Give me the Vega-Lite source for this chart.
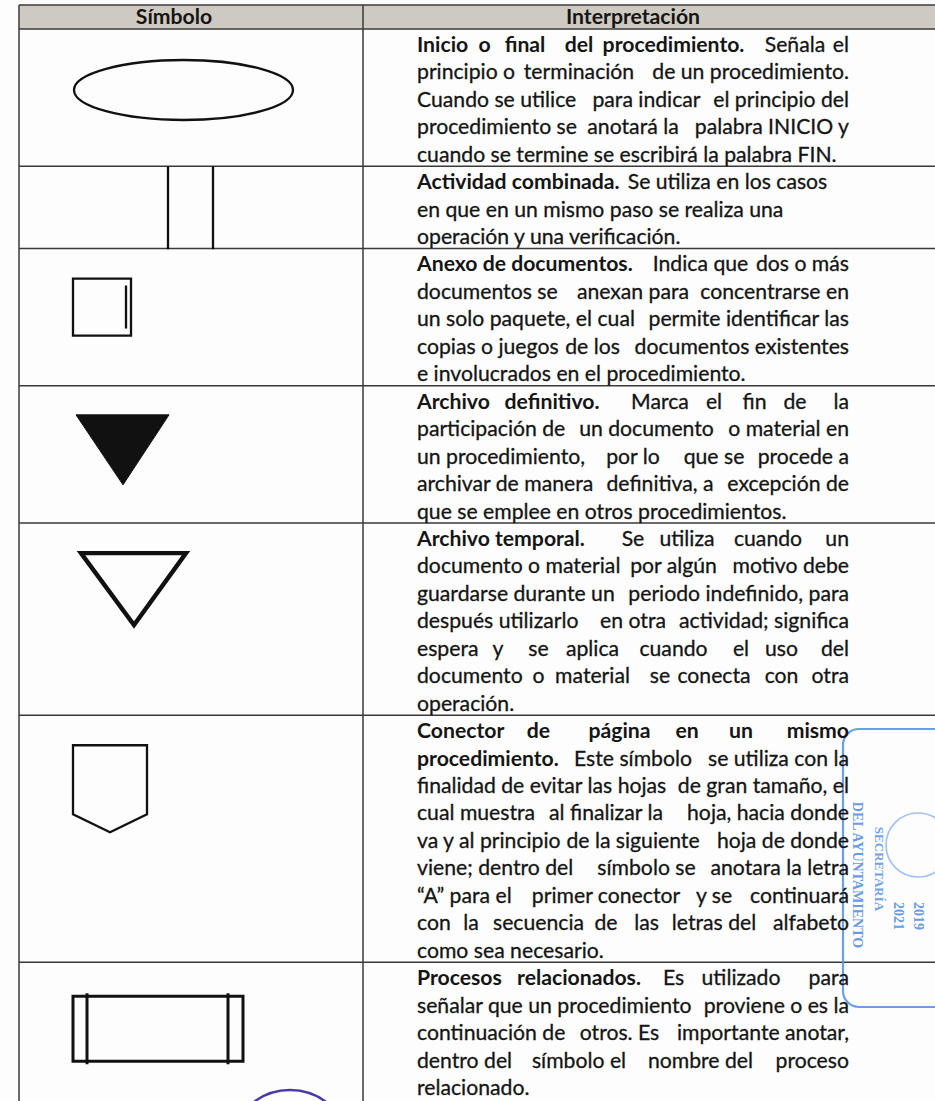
{
  "$schema": "https://vega.github.io/schema/vega-lite/v6.json",
  "width": 935,
  "height": 1101,
  "autosize": {"type": "none"},
  "padding": 0,
  "background": "#fdfdfd",
  "config": {"view": {"stroke": null}},
  "datasets": {
    "rows": [
      {"symbol": "inicio", "start": 0},
      {"symbol": "actividad", "start": 5},
      {"symbol": "anexo", "start": 8},
      {"symbol": "definitivo", "start": 13},
      {"symbol": "temporal", "start": 18},
      {"symbol": "conector", "start": 25},
      {"symbol": "procesos", "start": 34}
    ],
    "lines": [
      {"line": 0, "tab": -18, "text": "Símbolo", "bold": true},
      {"line": 0, "tab": 16, "text": "Interpretación", "bold": true},
      {"line": 1, "tab": 0, "text": "Inicio", "bold": true},
      {"line": 1, "tab": 5, "text": "o", "bold": true},
      {"line": 1, "tab": 8, "text": "final", "bold": true},
      {"line": 1, "tab": 12, "text": "del", "bold": true},
      {"line": 1, "tab": 19, "text": "procedimiento.", "bold": true},
      {"line": 1, "tab": 28, "text": "Señala"},
      {"line": 1, "tab": 32, "text": "el"},
      {"line": 2, "tab": 0, "text": "principio o"},
      {"line": 2, "tab": 12, "text": "terminación"},
      {"line": 2, "tab": 32, "text": "de un procedimiento."},
      {"line": 3, "tab": 0, "text": "Cuando se utilice"},
      {"line": 3, "tab": 17, "text": "para indicar"},
      {"line": 3, "tab": 32, "text": "el principio del"},
      {"line": 4, "tab": 0, "text": "procedimiento se"},
      {"line": 4, "tab": 16, "text": "anotará la"},
      {"line": 4, "tab": 32, "text": "palabra INICIO y"},
      {"line": 5, "tab": 0, "text": "cuando se termine se escribirá la palabra FIN."},
      {"line": 6, "tab": 0, "text": "Actividad combinada.", "bold": true},
      {"line": 6, "tab": 23, "text": "Se utiliza en los casos"},
      {"line": 7, "tab": 0, "text": "en que en un mismo paso se realiza una"},
      {"line": 8, "tab": 0, "text": "operación y una verificación."},
      {"line": 9, "tab": 0, "text": "Anexo de documentos.", "bold": true},
      {"line": 9, "tab": 21, "text": "Indica que"},
      {"line": 9, "tab": 32, "text": "dos o más"},
      {"line": 10, "tab": 0, "text": "documentos se"},
      {"line": 10, "tab": 16, "text": "anexan para"},
      {"line": 10, "tab": 32, "text": "concentrarse en"},
      {"line": 11, "tab": 0, "text": "un solo paquete, el cual"},
      {"line": 11, "tab": 32, "text": "permite identificar las"},
      {"line": 12, "tab": 0, "text": "copias o juegos"},
      {"line": 12, "tab": 13, "text": "de los"},
      {"line": 12, "tab": 32, "text": "documentos existentes"},
      {"line": 13, "tab": 0, "text": "e involucrados en el procedimiento."},
      {"line": 14, "tab": 0, "text": "Archivo", "bold": true},
      {"line": 14, "tab": 10, "text": "definitivo.", "bold": true},
      {"line": 14, "tab": 18, "text": "Marca"},
      {"line": 14, "tab": 22, "text": "el"},
      {"line": 14, "tab": 25, "text": "fin"},
      {"line": 14, "tab": 28, "text": "de"},
      {"line": 14, "tab": 32, "text": "la"},
      {"line": 15, "tab": 0, "text": "participación de"},
      {"line": 15, "tab": 17, "text": "un documento"},
      {"line": 15, "tab": 32, "text": "o material en"},
      {"line": 16, "tab": 0, "text": "un procedimiento,"},
      {"line": 16, "tab": 16, "text": "por lo"},
      {"line": 16, "tab": 22, "text": "que se"},
      {"line": 16, "tab": 32, "text": "procede a"},
      {"line": 17, "tab": 0, "text": "archivar de manera"},
      {"line": 17, "tab": 18, "text": "definitiva, a"},
      {"line": 17, "tab": 32, "text": "excepción de"},
      {"line": 18, "tab": 0, "text": "que se emplee en otros procedimientos."},
      {"line": 19, "tab": 0, "text": "Archivo temporal.", "bold": true},
      {"line": 19, "tab": 16, "text": "Se"},
      {"line": 19, "tab": 20, "text": "utiliza"},
      {"line": 19, "tab": 26, "text": "cuando"},
      {"line": 19, "tab": 32, "text": "un"},
      {"line": 20, "tab": 0, "text": "documento o material"},
      {"line": 20, "tab": 19, "text": "por algún"},
      {"line": 20, "tab": 32, "text": "motivo debe"},
      {"line": 21, "tab": 0, "text": "guardarse durante un"},
      {"line": 21, "tab": 32, "text": "periodo indefinido, para"},
      {"line": 22, "tab": 0, "text": "después utilizarlo"},
      {"line": 22, "tab": 16, "text": "en otra"},
      {"line": 22, "tab": 32, "text": "actividad; significa"},
      {"line": 23, "tab": 0, "text": "espera"},
      {"line": 23, "tab": 6, "text": "y"},
      {"line": 23, "tab": 9, "text": "se"},
      {"line": 23, "tab": 13, "text": "aplica"},
      {"line": 23, "tab": 19, "text": "cuando"},
      {"line": 23, "tab": 24, "text": "el"},
      {"line": 23, "tab": 27, "text": "uso"},
      {"line": 23, "tab": 32, "text": "del"},
      {"line": 24, "tab": 0, "text": "documento"},
      {"line": 24, "tab": 9, "text": "o"},
      {"line": 24, "tab": 13, "text": "material"},
      {"line": 24, "tab": 18, "text": "se"},
      {"line": 24, "tab": 22, "text": "conecta"},
      {"line": 24, "tab": 27, "text": "con"},
      {"line": 24, "tab": 32, "text": "otra"},
      {"line": 25, "tab": 0, "text": "operación."},
      {"line": 26, "tab": 0, "text": "Conector", "bold": true},
      {"line": 26, "tab": 9, "text": "de", "bold": true},
      {"line": 26, "tab": 15, "text": "página", "bold": true},
      {"line": 26, "tab": 20, "text": "en", "bold": true},
      {"line": 26, "tab": 24, "text": "un", "bold": true},
      {"line": 26, "tab": 32, "text": "mismo", "bold": true},
      {"line": 27, "tab": 0, "text": "procedimiento.", "bold": true},
      {"line": 27, "tab": 16, "text": "Este símbolo"},
      {"line": 27, "tab": 32, "text": "se utiliza con la"},
      {"line": 28, "tab": 0, "text": "finalidad de evitar las hojas"},
      {"line": 28, "tab": 32, "text": "de gran tamaño, el"},
      {"line": 29, "tab": 0, "text": "cual muestra"},
      {"line": 29, "tab": 14, "text": "al finalizar la"},
      {"line": 29, "tab": 32, "text": "hoja, hacia donde"},
      {"line": 30, "tab": 0, "text": "va y al principio"},
      {"line": 30, "tab": 16, "text": "de la siguiente"},
      {"line": 30, "tab": 32, "text": "hoja de donde"},
      {"line": 31, "tab": 0, "text": "viene; dentro del"},
      {"line": 31, "tab": 17, "text": "símbolo se"},
      {"line": 31, "tab": 32, "text": "anotara la letra"},
      {"line": 32, "tab": 0, "text": "“A” para el"},
      {"line": 32, "tab": 14, "text": "primer conector"},
      {"line": 32, "tab": 22, "text": "y se"},
      {"line": 32, "tab": 32, "text": "continuará"},
      {"line": 33, "tab": 0, "text": "con"},
      {"line": 33, "tab": 4, "text": "la"},
      {"line": 33, "tab": 9, "text": "secuencia"},
      {"line": 33, "tab": 14, "text": "de"},
      {"line": 33, "tab": 17, "text": "las"},
      {"line": 33, "tab": 22, "text": "letras del"},
      {"line": 33, "tab": 32, "text": "alfabeto"},
      {"line": 34, "tab": 0, "text": "como sea necesario."},
      {"line": 35, "tab": 0, "text": "Procesos", "bold": true},
      {"line": 35, "tab": 12, "text": "relacionados.", "bold": true},
      {"line": 35, "tab": 19, "text": "Es"},
      {"line": 35, "tab": 24, "text": "utilizado"},
      {"line": 35, "tab": 32, "text": "para"},
      {"line": 36, "tab": 0, "text": "señalar que un procedimiento"},
      {"line": 36, "tab": 32, "text": "proviene o es la"},
      {"line": 37, "tab": 0, "text": "continuación de"},
      {"line": 37, "tab": 15, "text": "otros. Es"},
      {"line": 37, "tab": 32, "text": "importante anotar,"},
      {"line": 38, "tab": 0, "text": "dentro del"},
      {"line": 38, "tab": 12, "text": "símbolo el"},
      {"line": 38, "tab": 21, "text": "nombre del"},
      {"line": 38, "tab": 32, "text": "proceso"},
      {"line": 39, "tab": 0, "text": "relacionado."}
    ]
  },
  "layer": [
    {
      "layer": [
        {
          "data": {"values": [{"part": "encabezado"}]},
          "mark": {"type": "rect", "fill": "#cfcac1"},
          "encoding": {
            "x": {"datum": 19, "type": "quantitative", "scale": {"domain": [0, 935], "nice": false, "zero": false}, "axis": null},
            "x2": {"datum": 935},
            "y": {"datum": -0.8743, "type": "quantitative", "scale": {"domain": [-1.05647, 39.0528], "reverse": true, "nice": false, "zero": false}, "axis": null},
            "y2": {"datum": 0}
          }
        },
        {
          "data": {"name": "rows"},
          "mark": {"type": "rule", "stroke": "#3a3a3a", "strokeWidth": 1.5},
          "encoding": {
            "x": {"datum": 19, "type": "quantitative", "axis": null},
            "x2": {"datum": 935},
            "y": {"field": "start", "type": "quantitative", "axis": null}
          }
        },
        {
          "data": {"values": [{"part": "borde superior"}]},
          "mark": {"type": "rule", "stroke": "#3a3a3a", "strokeWidth": 1.5},
          "encoding": {
            "x": {"datum": 19, "type": "quantitative", "axis": null},
            "x2": {"datum": 935},
            "y": {"datum": -0.8743, "type": "quantitative", "axis": null}
          }
        },
        {
          "data": {"values": [{"part": "borde izquierdo"}]},
          "mark": {"type": "rule", "stroke": "#3a3a3a", "strokeWidth": 1.5},
          "encoding": {
            "x": {"datum": 19, "type": "quantitative", "axis": null},
            "y": {"datum": -0.8743, "type": "quantitative", "axis": null},
            "y2": {"datum": 41}
          }
        },
        {
          "data": {"values": [{"part": "divisor"}]},
          "mark": {"type": "rule", "stroke": "#3a3a3a", "strokeWidth": 1.5},
          "encoding": {
            "x": {"datum": 363, "type": "quantitative", "axis": null},
            "y": {"datum": -0.8743, "type": "quantitative", "axis": null},
            "y2": {"datum": 41}
          }
        },
        {
          "data": {"name": "rows"},
          "transform": [{"filter": "datum.symbol != 'definitivo' && datum.symbol != 'temporal' && datum.symbol != 'procesos'"}],
          "mark": {"type": "point", "filled": false, "stroke": "#111111", "strokeWidth": 2.3, "opacity": 1, "size": 4},
          "encoding": {
            "x": {"datum": 0, "type": "quantitative", "axis": null},
            "y": {"field": "start", "type": "quantitative", "axis": null},
            "shape": {"field": "symbol", "type": "nominal", "legend": null, "scale": {"domain": ["inicio", "actividad", "anexo", "definitivo", "temporal", "conector", "procesos"], "range": ["M74,61A109.5,30,0,1,0,293,61A109.5,30,0,1,0,74,61Z", "M168,0L168,83M213,0L213,83", "M73,30L131,30L131,87L73,87ZM126,37L126,80", "M76,29L169,29L123,99Z", "M81,30L186,30L134,102Z", "M73,30L147,30L147,99L110,117L73,99Z", "M73,34L243,34L243,99L73,99ZM87,31L87,102M228,31L228,102"]}}
          }
        },
        {
          "data": {"name": "rows"},
          "transform": [{"filter": "datum.symbol == 'procesos'"}],
          "mark": {"type": "point", "filled": false, "stroke": "#111111", "strokeWidth": 3, "opacity": 1, "size": 4},
          "encoding": {
            "x": {"datum": 0, "type": "quantitative", "axis": null},
            "y": {"field": "start", "type": "quantitative", "axis": null},
            "shape": {"field": "symbol", "type": "nominal", "legend": null}
          }
        },
        {
          "data": {"name": "rows"},
          "transform": [{"filter": "datum.symbol == 'temporal'"}],
          "mark": {"type": "point", "filled": false, "stroke": "#111111", "strokeWidth": 4.4, "strokeJoin": "miter", "opacity": 1, "size": 4},
          "encoding": {
            "x": {"datum": 0, "type": "quantitative", "axis": null},
            "y": {"field": "start", "type": "quantitative", "axis": null},
            "shape": {"field": "symbol", "type": "nominal", "legend": null}
          }
        },
        {
          "data": {"name": "rows"},
          "transform": [{"filter": "datum.symbol == 'definitivo'"}],
          "mark": {"type": "point", "filled": true, "fill": "#111111", "stroke": "#111111", "strokeWidth": 1, "opacity": 1, "size": 4},
          "encoding": {
            "x": {"datum": 0, "type": "quantitative", "axis": null},
            "y": {"field": "start", "type": "quantitative", "axis": null},
            "shape": {"field": "symbol", "type": "nominal", "legend": null}
          }
        },
        {
          "data": {"values": [{"part": "sello"}]},
          "mark": {"type": "rect", "fill": "transparent", "stroke": "#5b95e0", "strokeWidth": 2.2, "cornerRadius": 16, "opacity": 0.9},
          "encoding": {
            "x": {"datum": 843, "type": "quantitative", "axis": null},
            "x2": {"datum": 990},
            "y": {"datum": 25.501, "type": "quantitative", "axis": null},
            "y2": {"datum": 35.628}
          }
        },
        {
          "data": {"values": [{"part": "logo"}]},
          "mark": {"type": "point", "shape": "circle", "filled": false, "stroke": "#7aa9ea", "strokeWidth": 1.6, "opacity": 0.7, "size": 4096},
          "encoding": {
            "x": {"datum": 918, "type": "quantitative", "axis": null},
            "y": {"datum": 29.727, "type": "quantitative", "axis": null}
          }
        },
        {
          "data": {"values": [{"t": "DEL AYUNTAMIENTO"}]},
          "mark": {"type": "text", "angle": 90, "align": "center", "baseline": "middle", "font": "Liberation Serif", "fontWeight": "bold", "fontSize": 14, "fill": "#4f8be0", "opacity": 0.85},
          "encoding": {
            "x": {"datum": 857, "type": "quantitative", "axis": null},
            "y": {"datum": 30.82, "type": "quantitative", "axis": null},
            "text": {"field": "t"}
          }
        },
        {
          "data": {"values": [{"t": "SECRETARÍA"}]},
          "mark": {"type": "text", "angle": 90, "align": "center", "baseline": "middle", "font": "Liberation Serif", "fontWeight": "bold", "fontSize": 13, "fill": "#4f8be0", "opacity": 0.8},
          "encoding": {
            "x": {"datum": 879, "type": "quantitative", "axis": null},
            "y": {"datum": 30.601, "type": "quantitative", "axis": null},
            "text": {"field": "t"}
          }
        },
        {
          "data": {"values": [{"t": "2021"}]},
          "mark": {"type": "text", "angle": 90, "align": "center", "baseline": "middle", "font": "Liberation Serif", "fontWeight": "bold", "fontSize": 14, "fill": "#4f8be0", "opacity": 0.85},
          "encoding": {
            "x": {"datum": 898, "type": "quantitative", "axis": null},
            "y": {"datum": 32.313, "type": "quantitative", "axis": null},
            "text": {"field": "t"}
          }
        },
        {
          "data": {"values": [{"t": "2019"}]},
          "mark": {"type": "text", "angle": 90, "align": "center", "baseline": "middle", "font": "Liberation Serif", "fontWeight": "bold", "fontSize": 14, "fill": "#4f8be0", "opacity": 0.85},
          "encoding": {
            "x": {"datum": 918, "type": "quantitative", "axis": null},
            "y": {"datum": 32.313, "type": "quantitative", "axis": null},
            "text": {"field": "t"}
          }
        },
        {
          "data": {"values": [{"part": "sello morado"}]},
          "mark": {"type": "point", "shape": "circle", "filled": false, "stroke": "#4a3aa8", "strokeWidth": 2.5, "opacity": 1, "size": 14400},
          "encoding": {
            "x": {"datum": 290, "type": "quantitative", "axis": null},
            "y": {"datum": 40.838, "type": "quantitative", "axis": null}
          }
        }
      ]
    },
    {
      "layer": [
        {
          "data": {"name": "lines"},
          "transform": [{"filter": "datum.tab == 0 && !datum.bold"}],
          "mark": {"type": "text", "align": "left", "baseline": "middle", "dy": -10.6, "font": "Lato", "fontSize": 21.2, "fontWeight": "normal", "fill": "#151515", "stroke": "#151515", "strokeWidth": 0.3},
          "encoding": {
            "x": {"field": "tab", "type": "quantitative", "scale": {"domain": [0, 32], "range": [417, 849], "nice": false, "zero": false}, "axis": null},
            "y": {"field": "line", "type": "quantitative", "axis": null},
            "text": {"field": "text"}
          }
        },
        {
          "data": {"name": "lines"},
          "transform": [{"filter": "datum.tab == 0 && datum.bold"}],
          "mark": {"type": "text", "align": "left", "baseline": "middle", "dy": -10.6, "font": "Lato", "fontSize": 21.2, "fontWeight": "bold", "fill": "#151515"},
          "encoding": {
            "x": {"field": "tab", "type": "quantitative", "axis": null},
            "y": {"field": "line", "type": "quantitative", "axis": null},
            "text": {"field": "text"}
          }
        },
        {
          "data": {"name": "lines"},
          "transform": [{"filter": "datum.tab != 0 && datum.tab != 32 && !datum.bold"}],
          "mark": {"type": "text", "align": "center", "baseline": "middle", "dy": -10.6, "font": "Lato", "fontSize": 21.2, "fontWeight": "normal", "fill": "#151515", "stroke": "#151515", "strokeWidth": 0.3},
          "encoding": {
            "x": {"field": "tab", "type": "quantitative", "axis": null},
            "y": {"field": "line", "type": "quantitative", "axis": null},
            "text": {"field": "text"}
          }
        },
        {
          "data": {"name": "lines"},
          "transform": [{"filter": "datum.tab != 0 && datum.tab != 32 && datum.bold"}],
          "mark": {"type": "text", "align": "center", "baseline": "middle", "dy": -10.6, "font": "Lato", "fontSize": 21.2, "fontWeight": "bold", "fill": "#151515"},
          "encoding": {
            "x": {"field": "tab", "type": "quantitative", "axis": null},
            "y": {"field": "line", "type": "quantitative", "axis": null},
            "text": {"field": "text"}
          }
        },
        {
          "data": {"name": "lines"},
          "transform": [{"filter": "datum.tab == 32 && !datum.bold"}],
          "mark": {"type": "text", "align": "right", "baseline": "middle", "dy": -10.6, "font": "Lato", "fontSize": 21.2, "fontWeight": "normal", "fill": "#151515", "stroke": "#151515", "strokeWidth": 0.3},
          "encoding": {
            "x": {"field": "tab", "type": "quantitative", "axis": null},
            "y": {"field": "line", "type": "quantitative", "axis": null},
            "text": {"field": "text"}
          }
        },
        {
          "data": {"name": "lines"},
          "transform": [{"filter": "datum.tab == 32 && datum.bold"}],
          "mark": {"type": "text", "align": "right", "baseline": "middle", "dy": -10.6, "font": "Lato", "fontSize": 21.2, "fontWeight": "bold", "fill": "#151515"},
          "encoding": {
            "x": {"field": "tab", "type": "quantitative", "axis": null},
            "y": {"field": "line", "type": "quantitative", "axis": null},
            "text": {"field": "text"}
          }
        }
      ]
    }
  ],
  "resolve": {"scale": {"x": "independent"}}
}
